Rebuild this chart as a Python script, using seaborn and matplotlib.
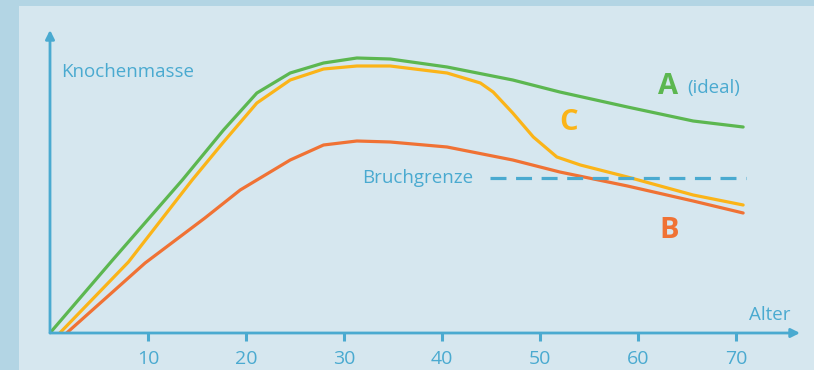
#!/usr/bin/env python3
"""Bone mass over age: ideal curve (A), low peak (B), early loss (C)."""

import matplotlib.pyplot as plt
import pandas as pd
import seaborn as sns
from matplotlib.patches import Rectangle

# values (age in years, bone mass in arbitrary units)
AGE_A = [0, 6.3, 13.5, 17.7, 21.1, 24.5, 27.9, 31.3, 34.7, 40.5, 47.2, 52, 58.9, 65.6, 70.7]
MASS_A = [0, 72, 153, 203, 240, 260, 270, 275, 274, 266, 253, 241, 226, 212, 206]

AGE_C = [1, 8, 14.5, 17.7, 21.1, 24.5, 27.9, 31.3, 34.7, 40.5, 43.9, 45.2, 47.2, 49.3,
         51.7, 54.1, 58.9, 65.6, 70.7]
MASS_C = [0, 71, 153, 191, 230, 253, 264, 267, 267, 260, 250, 241, 220, 196,
          176, 168, 156, 138, 128]

AGE_B = [1.7, 9.7, 15.8, 19.4, 21.1, 24.5, 27.9, 31.3, 34.7, 40.5, 47.2, 52, 58.9, 65.6, 70.7]
MASS_B = [0, 70, 115, 143, 153, 173, 188, 192, 191, 186, 173, 161, 147, 132, 120]

FRACTURE_LEVEL = 155
FRACTURE_AGES = [44.9, 71]
X_TICKS = [10, 20, 30, 40, 50, 60, 70]

BLUE = "#4aaad0"
COLORS = {"A": "#5cb750", "C": "#fbb418", "B": "#f07234"}

W, H = 814, 370


def main() -> None:
    sns.set_theme(style="white")
    plt.rcParams["font.family"] = ["Open Sans", "DejaVu Sans"]

    frames = []
    for name, ages, mass in (("A", AGE_A, MASS_A), ("C", AGE_C, MASS_C), ("B", AGE_B, MASS_B)):
        frames.append(pd.DataFrame({"age": ages, "mass": mass, "curve": name}))
    df = pd.concat(frames, ignore_index=True)

    fig = plt.figure(figsize=(W / 100, H / 100), dpi=100)
    fig.patch.set_facecolor("#b3d5e4")
    fig.patches.append(Rectangle((19 / W, 0), 1, 1 - 6 / H, transform=fig.transFigure,
                                 facecolor="#d6e7ef", edgecolor="none", zorder=-10))

    ax = fig.add_axes([50 / W, 37 / H, 750 / W, 303 / H])
    ax.set_facecolor("none")
    sns.lineplot(data=df, x="age", y="mass", hue="curve", hue_order=["A", "C", "B"],
                 palette=COLORS, linewidth=2.3, sort=False, estimator=None,
                 legend=False, ax=ax)
    for line in ax.lines:
        line.set_solid_joinstyle("round")

    ax.plot(FRACTURE_AGES, [FRACTURE_LEVEL] * 2, color=BLUE, linewidth=2.3,
            dashes=(5, 3))

    ax.set_xlim(0, 76.5)
    ax.set_ylim(0, 303)
    for s in ax.spines.values():
        s.set_visible(False)

    # axes as arrows
    arrow = dict(arrowstyle="-|>", color=BLUE, lw=2, mutation_scale=13,
                 shrinkA=0, shrinkB=0)
    ax.annotate("", xy=(76.5, 0), xytext=(0, 0), arrowprops=arrow, annotation_clip=False)
    ax.annotate("", xy=(0, 303), xytext=(0, 0), arrowprops=arrow, annotation_clip=False)

    ax.set_xticks(X_TICKS)
    ax.set_xticklabels([str(t) for t in X_TICKS])
    ax.set_yticks([])
    ax.tick_params(axis="x", direction="out", length=6, width=2.2, color=BLUE,
                   labelcolor=BLUE, labelsize=14, pad=6, bottom=True)
    ax.set_xlabel("")
    ax.set_ylabel("")

    label_size = 13.5
    ax.text(1.1, 261, "Knochenmasse", color=BLUE, fontsize=label_size, ha="left", va="center")
    ax.text(73.4, 18, "Alter", color=BLUE, fontsize=label_size, ha="center", va="center")
    ax.text(31.8, 155, "Bruchgrenze", color=BLUE, fontsize=label_size, ha="left", va="center")
    ax.text(63, 246, "A", color=COLORS["A"], fontsize=21, fontweight="bold",
            ha="center", va="center")
    ax.text(65, 245, "(ideal)", color=BLUE, fontsize=label_size, ha="left", va="center")
    ax.text(52.9, 210, "C", color=COLORS["C"], fontsize=21, fontweight="bold",
            ha="center", va="center")
    ax.text(63.1, 102, "B", color=COLORS["B"], fontsize=21, fontweight="bold",
            ha="center", va="center")

    fig.savefig("out.png", dpi=100)
    plt.close(fig)


if __name__ == "__main__":
    main()
